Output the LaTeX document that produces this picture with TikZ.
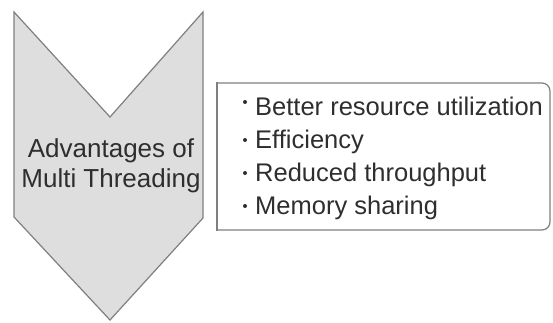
\documentclass[tikz,border=0pt]{standalone}
\usepackage{fontspec}
\setmainfont{Liberation Sans}
\definecolor{chevfill}{HTML}{DEDEDE}
\definecolor{edgegray}{HTML}{7F7F7F}
\definecolor{txt}{HTML}{2E2E2E}
\begin{document}
\begin{tikzpicture}[x=1pt,y=-1pt,
  chev/.style={fill=chevfill,draw=edgegray,line width=1.2pt,line join=miter},
  listbox/.style={draw=edgegray,line width=1.2pt,line cap=rect},
  big/.style={font=\fontsize{26}{30}\selectfont,text=txt,inner sep=0pt},
  item/.style={font=\fontsize{25.5}{30}\selectfont,text=txt,inner sep=0pt,anchor=base west},
  dot/.style={circle,fill=txt,inner sep=0pt,minimum size=4pt}]
\useasboundingbox (0,0) rectangle (553,322);
% chevron
\draw[chev] (14,12) -- (110,117) -- (203,12) -- (203,218) -- (110,320) -- (14,217) -- cycle;
\node[big,align=center] (adv) at (111,166) {Advantages of\\Multi Threading};
% list box
\draw[listbox,rounded corners=8pt] (217,83) -- (550,83) -- (550,230) -- (217,230);
\draw[listbox] (217,83) -- (217,230);
\node[item] (i1) at (255,115) {Better resource utilization};
\node[item] (i2) at (255,148) {Efficiency};
\node[item] (i3) at (255,181) {Reduced throughput};
\node[item] (i4) at (255,214) {Memory sharing};
\node[dot] (b1) at (245,102) {};
\node[dot] (b2) at (245,140) {};
\node[dot] (b3) at (245,173) {};
\node[dot] (b4) at (245,206) {};
\end{tikzpicture}
\end{document}
